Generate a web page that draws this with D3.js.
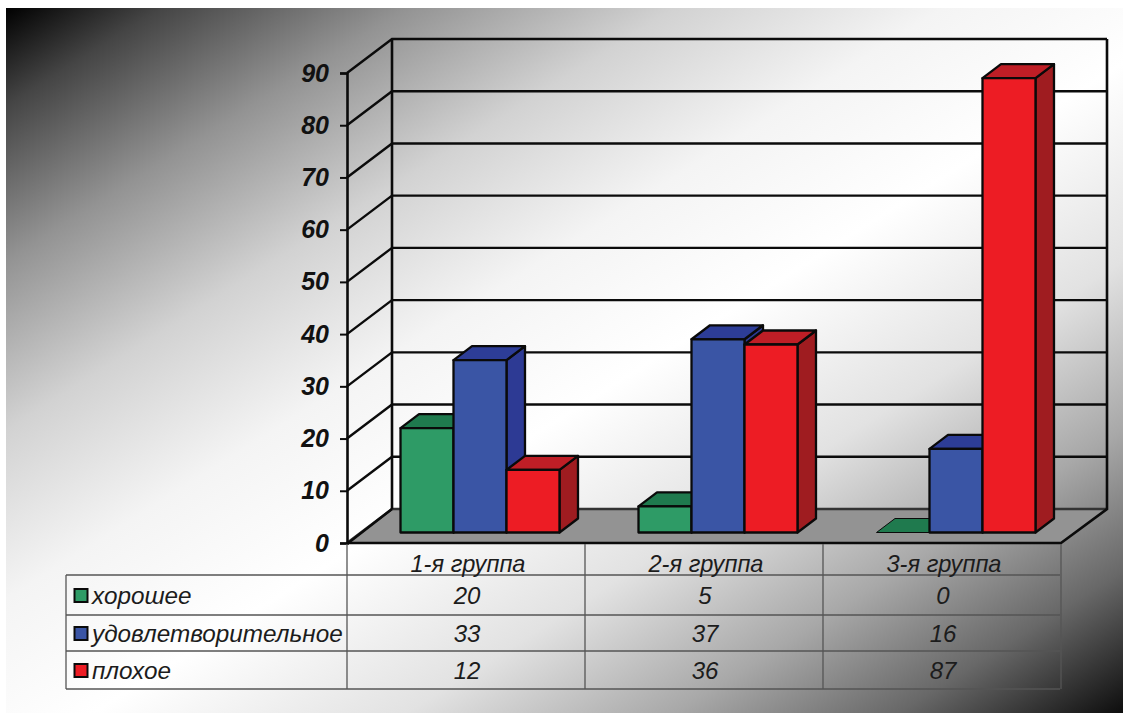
<!DOCTYPE html>
<html lang="ru">
<head>
<meta charset="utf-8">
<title>Оценка по группам</title>
<script src="https://cdn.jsdelivr.net/npm/d3@7"></script>
<style>
html,body{margin:0;padding:0;background:#fff}
svg{display:block}
text{font-family:"Liberation Sans",Arial,sans-serif;font-style:italic}
</style>
</head>
<body>
<svg id="chart" width="1123" height="713"></svg>
<script>
// Chart data
const categories = ["1-я группа", "2-я группа", "3-я группа"];
const seriesNames = ["хорошее", "удовлетворительное", "плохое"];
const goodValues = [20, 5, 0];
const fairValues = [33, 37, 16];
const poorValues = [12, 36, 87];
const yTicks = [0, 10, 20, 30, 40, 50, 60, 70, 80, 90];

const seriesValues = [goodValues, fairValues, poorValues];
const faceColors = [
  {front: "#2e9b66", top: "#1f7a4e", side: "#1f7a4e"},
  {front: "#3a55a5", top: "#2d3d97", side: "#2d3a94"},
  {front: "#ed1c24", top: "#bf1e26", side: "#9f1c20"}
];

const svg = d3.select("#chart");

// Plot frame: front plane and the shift that leads to the back wall
const frame = {left: 347, right: 1061, bottom: 543, top: 73, depthX: 45, depthY: -34};
const y = d3.scaleLinear().domain([0, 90]).range([frame.bottom, frame.top]);
const x = d3.scaleBand().domain(categories).range([frame.left, frame.right]);
const barInset = 0.166;           // share of a category left empty on each side
const barW = x.bandwidth() * (1 - 2 * barInset) / 3;
const floorShift = {x: 14, y: -10.5};  // bars stand slightly inside the floor
const barDepth = {x: 18.5, y: -14};

// Page background
const defs = svg.append("defs");
const grad = defs.append("linearGradient").attr("id", "bg")
  .attr("gradientUnits", "userSpaceOnUse")
  .attr("x1", 246).attr("y1", -144).attr("x2", 882).attr("y2", 864);
[[0, "#000"], [0.07, "#454545"], [0.18, "#939393"], [0.3, "#d2d2d2"], [0.42, "#f4f4f4"],
 [0.54, "#fff"], [0.68, "#e2e2e2"], [0.8, "#a8a8a8"], [0.9, "#686868"], [1, "#0e0e0e"]]
  .forEach(([o, c]) => grad.append("stop").attr("offset", o).attr("stop-color", c));
svg.append("rect").attr("x", 6).attr("y", 8).attr("width", 1117).attr("height", 705).attr("fill", "url(#bg)");

const pts = a => a.map(p => p.join(",")).join(" ");
const wall = svg.append("g");

// Floor
const b0 = y(0);
wall.append("polygon")
  .attr("points", pts([[frame.left, b0], [frame.left + frame.depthX, b0 + frame.depthY],
    [frame.right + frame.depthX + 1, b0 + frame.depthY], [frame.right, b0]]))
  .attr("fill", "#939393");

// Gridlines running along the side and back walls
yTicks.forEach(t => {
  const p = y(t);
  wall.append("polyline")
    .attr("points", pts([[frame.left, p], [frame.left + frame.depthX, p + frame.depthY],
      [frame.right + frame.depthX + 1, p + frame.depthY]]))
    .attr("fill", "none").attr("stroke", t === 0 ? "#333" : "#0b0b0b")
    .attr("stroke-width", 2.4);
});

// Wall edges
wall.append("line")
  .attr("x1", frame.left + frame.depthX).attr("y1", y(90) + frame.depthY)
  .attr("x2", frame.left + frame.depthX).attr("y2", b0 + frame.depthY)
  .attr("stroke", "#0b0b0b").attr("stroke-width", 2.6);
wall.append("polyline")
  .attr("points", pts([[frame.right + frame.depthX + 1, y(90) + frame.depthY],
    [frame.right + frame.depthX + 1, b0 + frame.depthY], [frame.right, b0], [frame.left, b0]]))
  .attr("fill", "none").attr("stroke", "#0b0b0b").attr("stroke-width", 2.6);
wall.append("line")
  .attr("x1", frame.left).attr("y1", b0 + 1).attr("x2", frame.left + frame.depthX).attr("y2", b0 + frame.depthY)
  .attr("stroke", "#0b0b0b").attr("stroke-width", 2.4);

// Value axis on the front-left edge
const axis = d3.axisLeft(y).tickValues(yTicks).tickSize(7).tickPadding(11);
const axisG = svg.append("g").attr("transform", `translate(${frame.left},0)`).call(axis);
axisG.select(".domain").attr("stroke", "#0b0b0b").attr("stroke-width", 2.6);
axisG.selectAll(".tick line").attr("stroke", "#0b0b0b").attr("stroke-width", 2);
axisG.selectAll("text")
  .attr("font-family", "'Liberation Sans',Arial,sans-serif")
  .attr("font-size", 25).attr("font-weight", 700).attr("font-style", "italic").attr("fill", "#111");

// Bars: side and top faces first, drawn left to right within a group
const barsG = svg.append("g");
categories.forEach((cat, ci) => {
  const start = x(cat) + x.bandwidth() * barInset + floorShift.x;
  seriesValues.forEach((vals, si) => {
    const v = vals[ci];
    const x0 = start + si * barW, x1 = x0 + barW;
    const yBase = y(0) + floorShift.y, yTop = y(v) + floorShift.y;
    const dx = barDepth.x, dy = barDepth.y;
    const col = faceColors[si];
    const g = barsG.append("g").attr("stroke", "#0a0a0a").attr("stroke-width", 2.3).attr("stroke-linejoin", "round");
    if (v === 0) g.attr("stroke-width", 1);
    g.append("polygon").attr("points", pts([[x1, yBase], [x1 + dx, yBase + dy], [x1 + dx, yTop + dy], [x1, yTop]])).attr("fill", col.side);
    g.append("polygon").attr("points", pts([[x0, yTop], [x0 + dx, yTop + dy], [x1 + dx, yTop + dy], [x1, yTop]])).attr("fill", col.top);
    g.append("rect").attr("x", x0).attr("y", yTop).attr("width", barW).attr("height", yBase - yTop).attr("fill", col.front);
  });
});

// Data table under the plot
const rowLines = [575, 615, 651, 689];
const colLines = [frame.left, ...categories.slice(1).map(c => x(c)), frame.right];
const tableLeft = 66;
const table = svg.append("g").attr("stroke", "#555").attr("stroke-width", 1.3);
rowLines.forEach(r => table.append("line").attr("x1", tableLeft).attr("x2", frame.right - 1).attr("y1", r).attr("y2", r));
table.append("line").attr("x1", tableLeft).attr("x2", tableLeft).attr("y1", rowLines[0]).attr("y2", rowLines[3]);
colLines.forEach(c => table.append("line").attr("x1", c).attr("x2", c).attr("y1", frame.bottom + 1).attr("y2", rowLines[3]));

const textFill = "#1c1c1c";
categories.forEach(cat => {
  svg.append("text").attr("x", x(cat) + x.bandwidth() / 2 + 2).attr("y", 572)
    .attr("text-anchor", "middle").attr("font-size", 23.6).attr("fill", textFill).text(cat);
});

const rowBaselines = [604, 642, 679];
seriesNames.forEach((name, si) => {
  const cy = rowBaselines[si] - 8;
  svg.append("rect").attr("x", 74.5).attr("y", cy - 7).attr("width", 13).attr("height", 13)
    .attr("fill", faceColors[si].front).attr("stroke", "#0a0a0a").attr("stroke-width", 2);
  svg.append("text").attr("x", 92).attr("y", rowBaselines[si])
    .attr("font-size", 24.3).attr("fill", textFill).text(name);
  categories.forEach((cat, ci) => {
    svg.append("text").attr("x", x(cat) + x.bandwidth() / 2 + 1).attr("y", rowBaselines[si])
      .attr("text-anchor", "middle").attr("font-size", 24).attr("fill", textFill).text(seriesValues[si][ci]);
  });
});
</script>
</body>
</html>
